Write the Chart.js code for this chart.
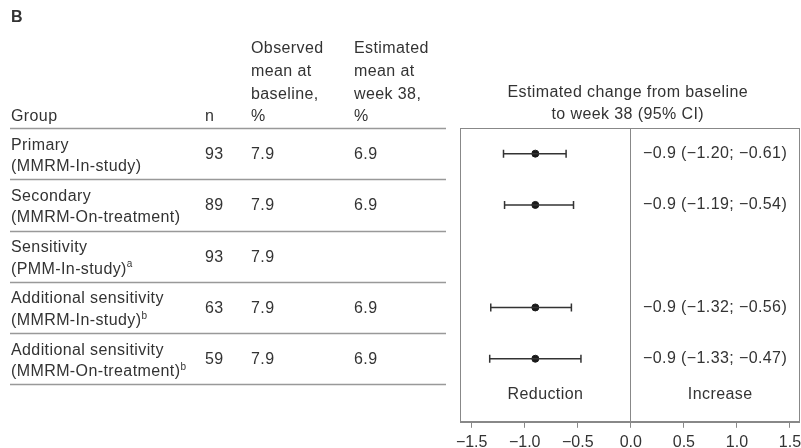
<!DOCTYPE html>
<html>
<head>
<meta charset="utf-8">
<script src="https://cdn.jsdelivr.net/npm/chart.js@4/dist/chart.umd.min.js"></script>
<style>
  body { margin: 0; background: #fff; overflow: hidden; }
  #wrap { width: 801px; height: 448px; overflow: hidden; }
</style>
</head>
<body>
<div id="wrap"><canvas id="forest" width="805" height="448"></canvas></div>
<script>
const groups = ['Primary', 'Secondary', 'Sensitivity', 'Additional sensitivity', 'Additional sensitivity']
const analyses = ['(MMRM-In-study)', '(MMRM-On-treatment)', '(PMM-In-study)', '(MMRM-In-study)', '(MMRM-On-treatment)']
const notes = ['', '', 'a', 'b', 'b']
const nValues = [93, 89, 93, 63, 59]
const baseline = [7.9, 7.9, 7.9, 7.9, 7.9]
const week38 = [6.9, 6.9, null, 6.9, 6.9]
const estimate = [-0.9, -0.9, null, -0.9, -0.9]
const lower = [-1.20, -1.19, null, -1.32, -1.33]
const upper = [-0.61, -0.54, null, -0.56, -0.47]
const xTicks = [-1.5, -1.0, -0.5, 0.0, 0.5, 1.0, 1.5]

const FONT = "'Liberation Sans', Arial, sans-serif"
const TEXT = '#333'
const LINE = '#999'

Chart.defaults.font.family = FONT
Chart.defaults.font.size = 16
Chart.defaults.color = TEXT

function minus(s) {
    return s.replace(/-/g, '\u2212')
}

const rows = groups.map(function(g, i) { return i + 0.5 })

const whiskers = []
estimate.forEach(function(e, i) {
    if (e === null) return
    whiskers.push({
        type: 'line',
        data: [{x: lower[i], y: rows[i]}, {x: upper[i], y: rows[i]}],
        borderColor: '#333',
        borderWidth: 1.5,
        pointStyle: 'line',
        rotation: 90,
        pointRadius: 4,
        pointBorderWidth: 1.5,
        pointBorderColor: '#333'
    })
})

const points = {
    type: 'scatter',
    data: estimate.map(function(e, i) { return e === null ? null : {x: e, y: rows[i]} }).filter(Boolean),
    backgroundColor: '#1a1a1a',
    borderColor: '#1a1a1a',
    pointRadius: 3.5
}

const tablePlugin = {
    id: 'forestTable',
    afterDraw(chart) {
        const c = chart.ctx
        const a = chart.chartArea
        const ys = chart.scales.y
        c.save()
        c.fillStyle = TEXT
        c.textBaseline = 'middle'
        c.letterSpacing = '0.4px'

        c.font = 'bold 16px ' + FONT
        c.fillText('B', 11, 18)

        c.font = '16px ' + FONT
        c.fillText('Group', 11, 116.5)
        c.fillText('n', 205, 116.5)
        const obs = ['Observed', 'mean at', 'baseline,', '%']
        const est = ['Estimated', 'mean at', 'week 38,', '%']
        obs.forEach(function(t, k) { c.fillText(t, 251, 48.5 + k * 22.8) })
        est.forEach(function(t, k) { c.fillText(t, 354, 48.5 + k * 22.8) })

        c.textAlign = 'center'
        const mid = (a.left + a.right) / 2 - 2
        c.fillText('Estimated change from baseline', mid, 93)
        c.fillText('to week 38 (95% CI)', mid, 115)
        c.textAlign = 'left'

        // table separators
        c.strokeStyle = LINE
        c.lineWidth = 1.5
        for (let k = 0; k <= groups.length; k++) {
            const y = Math.round(ys.getPixelForValue(k)) + 0.5
            c.beginPath()
            c.moveTo(10, y)
            c.lineTo(446, y)
            c.stroke()
        }

        groups.forEach(function(g, i) {
            const y = ys.getPixelForValue(rows[i])
            c.font = '16px ' + FONT
            c.fillText(g, 11, y - 8.5)
            c.fillText(analyses[i], 11, y + 13)
            if (notes[i]) {
                const w = c.measureText(analyses[i]).width
                c.font = '10px ' + FONT
                c.fillText(notes[i], 11 + w, y + 8.5)
                c.font = '16px ' + FONT
            }
            c.fillText(String(nValues[i]), 205, y + 1)
            c.fillText(baseline[i].toFixed(1), 251, y + 1)
            if (week38[i] !== null) c.fillText(week38[i].toFixed(1), 354, y + 1)
            if (estimate[i] !== null) {
                const label = minus(estimate[i].toFixed(1) + ' (' + lower[i].toFixed(2) + '; ' + upper[i].toFixed(2) + ')')
                c.fillText(label, 643, y)
            }
        })

        // plot box
        c.strokeStyle = '#888'
        c.lineWidth = 1
        c.strokeRect(Math.round(a.left) + 0.5, Math.round(a.top) + 0.5, Math.round(a.right - a.left) - 1, Math.round(a.bottom - a.top))

        c.textAlign = 'center'
        const xs = chart.scales.x
        const zero = xs.getPixelForValue(0)
        const ly = ys.getPixelForValue(5.2)
        c.fillText('Reduction', (a.left + zero) / 2, ly)
        c.fillText('Increase', (zero + a.right) / 2 + 5, ly)
        c.restore()
    }
}

new Chart(document.getElementById('forest'), {
    data: { datasets: whiskers.concat([points]) },
    options: {
        responsive: false,
        animation: false,
        layout: { padding: { left: 460, top: 128, right: 0, bottom: -9 } },
        plugins: { legend: { display: false }, tooltip: { enabled: false } },
        scales: {
            x: {
                type: 'linear',
                min: -1.61,
                max: 1.59,
                afterBuildTicks: function(scale) {
                    scale.ticks = xTicks.map(function(v) { return {value: v} })
                },
                afterFit: function(scale) {
                    scale.paddingLeft = 0
                    scale.paddingRight = 0
                },
                ticks: {
                    color: TEXT,
                    padding: 5,
                    maxRotation: 0,
                    callback: function(v) { return minus(Number(v).toFixed(1)) }
                },
                grid: {
                    color: function(ctx) { return ctx.tick && ctx.tick.value === 0 ? '#888' : 'rgba(0,0,0,0)' },
                    tickColor: '#888',
                    tickLength: 6
                },
                border: { display: true, color: '#888' }
            },
            y: {
                type: 'linear',
                display: false,
                reverse: true,
                min: 0,
                max: 5.73
            }
        }
    },
    plugins: [tablePlugin]
})
</script>
</body>
</html>
